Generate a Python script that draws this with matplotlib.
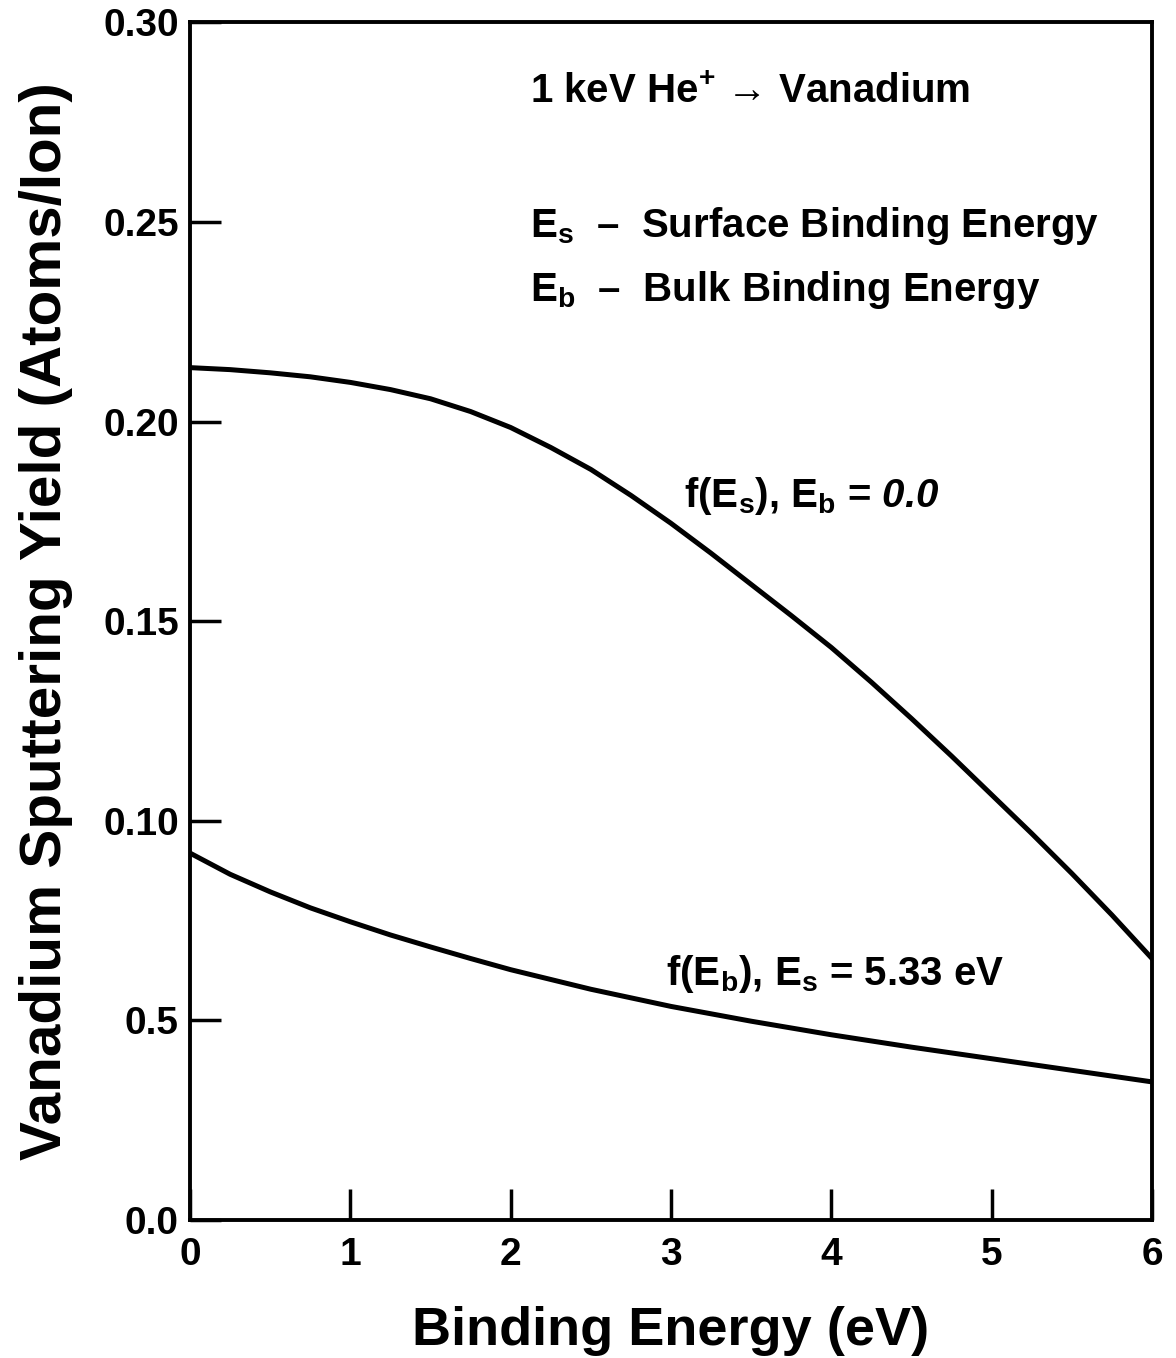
import matplotlib
matplotlib.use("Agg")
import matplotlib.pyplot as plt

# ------------------------
# Data
# ------------------------
energy_s = [0.0, 0.25, 0.5, 0.75, 1.0, 1.25, 1.5, 1.75, 2.0, 2.25, 2.5, 2.75,
            3.0, 3.25, 3.5, 3.75, 4.0, 4.25, 4.5, 4.75, 5.0, 5.25, 5.5, 5.75, 6.0]

# f(Es), Eb = 0.0
yield_surface = [0.2135, 0.2130, 0.2122, 0.2112, 0.2098, 0.2080, 0.2057, 0.2025,
                 0.1985, 0.1935, 0.1880, 0.1815, 0.1745, 0.1670, 0.1592, 0.1514,
                 0.1434, 0.1347, 0.1256, 0.1162, 0.1065, 0.0968, 0.0868, 0.0764,
                 0.0655]

energy_b = [0.0, 0.25, 0.5, 0.75, 1.0, 1.25, 1.5, 1.75, 2.0, 2.5, 3.0, 3.5,
            4.0, 4.5, 5.0, 5.5, 6.0]

# f(Eb), Es = 5.33 eV
yield_bulk = [0.0919, 0.0866, 0.0822, 0.0782, 0.0747, 0.0714, 0.0684, 0.0655,
              0.0627, 0.0578, 0.0535, 0.0498, 0.0464, 0.0433, 0.0404, 0.0375,
              0.0346]

x_ticks = [0, 1, 2, 3, 4, 5, 6]
y_ticks = [0.0, 0.05, 0.10, 0.15, 0.20, 0.25, 0.30]
y_tick_labels = ["0.0", "0.5", "0.10", "0.15", "0.20", "0.25", "0.30"]

# ------------------------
# Style
# ------------------------
plt.rcParams['font.family'] = ['Liberation Sans', 'DejaVu Sans']
plt.rcParams['font.weight'] = 'bold'
plt.rcParams['mathtext.fontset'] = 'custom'
plt.rcParams['mathtext.rm'] = 'Liberation Sans:bold'
plt.rcParams['mathtext.it'] = 'Liberation Sans:bold:italic'
plt.rcParams['mathtext.sf'] = 'Liberation Sans:bold:italic'
plt.rcParams['mathtext.bf'] = 'Liberation Sans:bold'

fig = plt.figure(figsize=(11.76, 13.58), dpi=100)
ax = fig.add_axes([0.1616, 0.1016, 0.818, 0.882])

ax.plot(energy_s, yield_surface, color='black', lw=3.6, solid_joinstyle='round')
ax.plot(energy_b, yield_bulk, color='black', lw=3.6, solid_joinstyle='round')

ax.set_xlim(0, 6)
ax.set_ylim(0, 0.30)
ax.set_xticks(x_ticks)
ax.set_xticklabels([str(t) for t in x_ticks])
ax.set_yticks(y_ticks)
ax.set_yticklabels(y_tick_labels)

for s in ax.spines.values():
    s.set_linewidth(2.8)

ax.tick_params(direction='in', length=22, width=2.5, labelsize=28, pad=8)
ax.tick_params(axis='x', pad=12)

ax.set_xlabel("Binding Energy (eV)", fontsize=39, fontweight='bold', labelpad=24)
ax.set_ylabel("Vanadium Sputtering Yield (Atoms/Ion)", fontsize=42,
              fontweight='bold', labelpad=22)

# annotations
ax.text(2.12, 0.2797, r"1 keV He$^{+}$ → Vanadium", fontsize=29)
ax.text(2.12, 0.2462, r"$\mathrm{E_s}$  –  Surface Binding Energy", fontsize=29)
ax.text(2.12, 0.2302, r"$\mathrm{E_b}$  –  Bulk Binding Energy", fontsize=29)
ax.text(3.08, 0.1786, r"f($\mathrm{E_s}$), $\mathrm{E_b}$ = $\mathsf{0.0}$", fontsize=29)
ax.text(2.97, 0.0589, r"f($\mathrm{E_b}$), $\mathrm{E_s}$ = 5.33 eV", fontsize=29)

fig.savefig("out.png", dpi=100)
